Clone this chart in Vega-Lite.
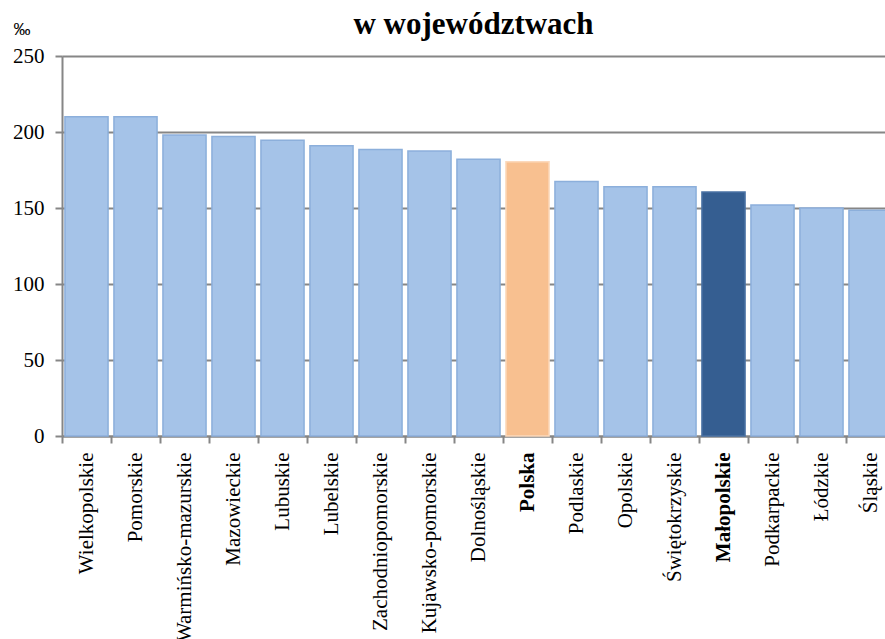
{
  "$schema": "https://vega.github.io/schema/vega-lite/v6.json",
  "autosize": {"type": "none"},
  "width": 823,
  "height": 380,
  "padding": {"left": 62, "top": 56, "right": 0, "bottom": 203},
  "background": "white",
  "title": {
    "text": "w województwach",
    "font": "Liberation Serif",
    "fontSize": 31,
    "fontWeight": "bold",
    "color": "black",
    "anchor": "middle",
    "frame": "group",
    "offset": -21
  },
  "data": {
    "values": [
      {"region": "Wielkopolskie", "value": 210, "kind": "woj"},
      {"region": "Pomorskie", "value": 210, "kind": "woj"},
      {"region": "Warmińsko-mazurskie", "value": 198, "kind": "woj"},
      {"region": "Mazowieckie", "value": 197, "kind": "woj"},
      {"region": "Lubuskie", "value": 194.5, "kind": "woj"},
      {"region": "Lubelskie", "value": 191, "kind": "woj"},
      {"region": "Zachodniopomorskie", "value": 188.5, "kind": "woj"},
      {"region": "Kujawsko-pomorskie", "value": 187.5, "kind": "woj"},
      {"region": "Dolnośląskie", "value": 182, "kind": "woj"},
      {"region": "Polska", "value": 180.5, "kind": "Polska"},
      {"region": "Podlaskie", "value": 167.5, "kind": "woj"},
      {"region": "Opolskie", "value": 164, "kind": "woj"},
      {"region": "Świętokrzyskie", "value": 164, "kind": "woj"},
      {"region": "Małopolskie", "value": 160.5, "kind": "Małopolska"},
      {"region": "Podkarpackie", "value": 152, "kind": "woj"},
      {"region": "Łódzkie", "value": 150, "kind": "woj"},
      {"region": "Śląskie", "value": 148.5, "kind": "woj"}
    ]
  },
  "resolve": {"axis": {"x": "independent"}},
  "layer": [
    {
      "mark": {"type": "bar", "width": {"band": 0.88}, "strokeWidth": 1.5},
      "encoding": {
        "x": {
          "field": "region",
          "type": "nominal",
          "sort": null,
          "scale": {"range": [0, 833], "paddingInner": 0, "paddingOuter": 0},
          "axis": {
            "orient": "bottom",
            "title": null,
            "labelAngle": -90,
            "labelFont": "Liberation Serif",
            "labelFontSize": 21,
            "labelColor": "black",
            "labelFontWeight": {"condition": {"test": "datum.value == 'Polska' || datum.value == 'Małopolskie'", "value": "bold"}, "value": "normal"},
            "labelPadding": 16,
            "labelLimit": 0,
            "labelOverlap": false,
            "ticks": false,
            "tickSize": 0,
            "domain": true,
            "domainColor": "#868686",
            "domainWidth": 2,
            "grid": false
          }
        },
        "y": {
          "field": "value",
          "type": "quantitative",
          "scale": {"domain": [0, 250], "nice": false},
          "axis": {
            "values": [0, 50, 100, 150, 200, 250],
            "title": "‰",
            "titleAngle": 0,
            "titleFont": "Liberation Sans",
            "titleFontSize": 17,
            "titleFontWeight": "normal",
            "titleColor": "black",
            "titleX": -49,
            "titleY": -22,
            "titleAlign": "left",
            "titleBaseline": "alphabetic",
            "labelFont": "Liberation Serif",
            "labelFontSize": 21,
            "labelColor": "black",
            "labelPadding": 11,
            "tickSize": 7,
            "tickColor": "#868686",
            "tickWidth": 2,
            "domainColor": "#868686",
            "domainWidth": 2,
            "grid": true,
            "gridColor": "#868686",
            "gridWidth": 2
          }
        },
        "fill": {
          "field": "kind",
          "type": "nominal",
          "scale": {"domain": ["woj", "Polska", "Małopolska"], "range": ["#A5C3E8", "#F8C090", "#355E91"]},
          "legend": null
        },
        "stroke": {
          "field": "kind",
          "type": "nominal",
          "scale": {"domain": ["woj", "Polska", "Małopolska"], "range": ["#8CAFDB", "#FCD9BC", "#4A72A4"]},
          "legend": null
        }
      }
    },
    {
      "mark": {"type": "bar", "opacity": 0},
      "encoding": {
        "x": {
          "field": "region",
          "type": "nominal",
          "sort": null,
          "axis": {
            "orient": "bottom",
            "bandPosition": 0,
            "labels": false,
            "title": null,
            "domain": false,
            "grid": false,
            "ticks": true,
            "tickSize": 7,
            "tickColor": "#868686",
            "tickWidth": 2
          }
        },
        "y": {"field": "value", "type": "quantitative"}
      }
    }
  ]
}
